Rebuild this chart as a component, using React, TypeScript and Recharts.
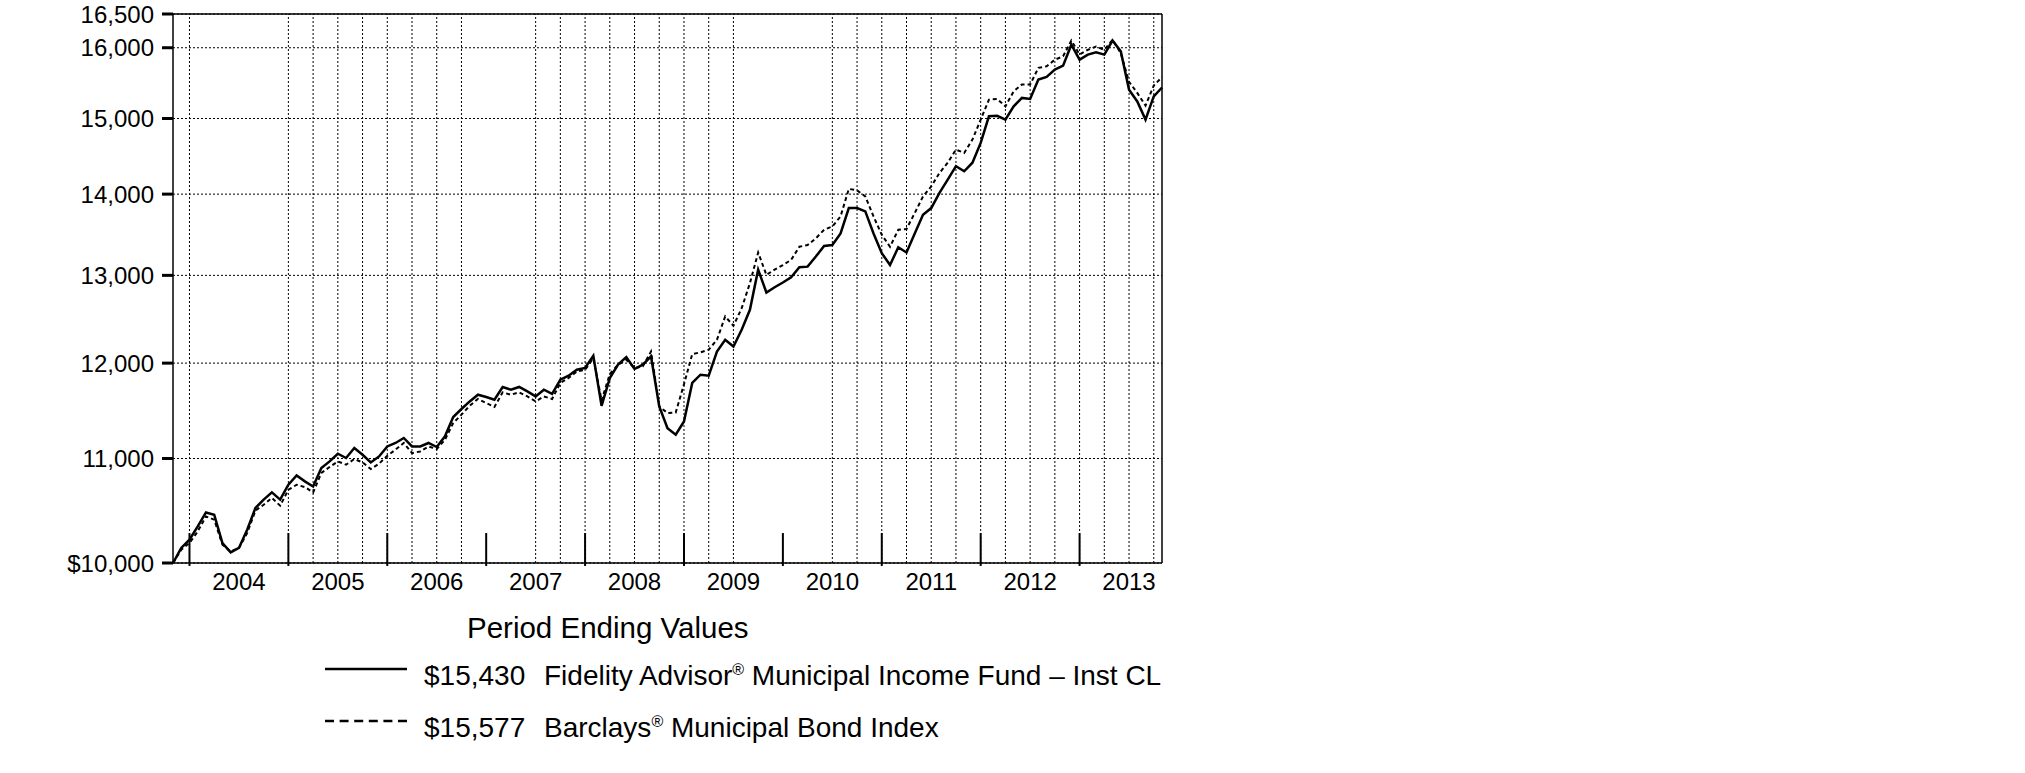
import React from 'react';
import { LineChart, Line, XAxis, YAxis, CartesianGrid, ReferenceLine } from 'recharts';

// monthly period-ending values, Oct 2003 .. Oct 2013 (index 0 = Oct 2003)
const fundValues = [
  10000, 10138, 10215, 10339, 10472, 10450, 10184, 10097, 10138, 10308,
  10514, 10595, 10665, 10595, 10740, 10831, 10773, 10723, 10905, 10971,
  11048, 11005, 11106, 11038, 10961, 11021, 11122, 11157, 11208, 11122,
  11122, 11157, 11116, 11225, 11424, 11508, 11588, 11659, 11635, 11606,
  11742, 11713, 11742, 11695, 11641, 11713, 11669, 11820, 11863, 11928,
  11947, 12080, 11542, 11838, 11983, 12066, 11936, 11983, 12073, 11535,
  11309, 11242, 11378, 11785, 11874, 11863, 12128, 12258, 12183, 12371,
  12598, 13068, 12798, 12860, 12916, 12978, 13098, 13104, 13225, 13353,
  13365, 13507, 13823, 13823, 13781, 13507, 13266, 13123, 13337, 13274,
  13507, 13740, 13823, 14016, 14186, 14361, 14295, 14407, 14670, 15030,
  15037, 14985, 15167, 15284, 15270, 15543, 15580, 15685, 15740, 16044,
  15827, 15900, 15933, 15900, 16106, 15947, 15400, 15235, 14985, 15306,
  15430,
];

const indexValues = [
  10000, 10122, 10184, 10292, 10434, 10403, 10168, 10106, 10138, 10277,
  10489, 10546, 10611, 10537, 10691, 10740, 10717, 10665, 10856, 10915,
  10971, 10938, 10995, 10961, 10895, 10948, 11027, 11089, 11157, 11055,
  11071, 11122, 11096, 11190, 11362, 11449, 11542, 11614, 11571, 11530,
  11684, 11659, 11684, 11641, 11588, 11641, 11614, 11785, 11838, 11910,
  11928, 12055, 11600, 11880, 11983, 12037, 11947, 11964, 12128, 11535,
  11466, 11472, 11770, 12100, 12118, 12148, 12258, 12522, 12416, 12616,
  12908, 13274, 13006, 13068, 13123, 13185, 13344, 13365, 13447, 13552,
  13593, 13718, 14067, 14048, 13970, 13718, 13490, 13344, 13552, 13562,
  13760, 13970, 14099, 14273, 14407, 14580, 14536, 14714, 14985, 15259,
  15270, 15167, 15376, 15472, 15472, 15709, 15731, 15827, 15875, 16106,
  15900, 15970, 16018, 15970, 16115, 15922, 15511, 15354, 15177, 15457,
  15577,
];

const yearLabels = ['2004', '2005', '2006', '2007', '2008', '2009', '2010', '2011', '2012', '2013'];
const yearLabelIdx = [8, 20, 32, 44, 56, 68, 80, 92, 104, 116]; // mid-year (June)
const yearEndIdx = [2, 14, 26, 38, 50, 62, 74, 86, 98, 110]; // December
// quarterly dotted gridlines as they appear in the original (some quarters are missing)
const gridIdx = [2, 14, 17, 20, 23, 26, 29, 32, 35, 44, 47, 50, 53, 56, 59, 62, 65, 68, 80, 83, 86, 89, 92, 95, 98, 101, 104, 107, 110, 113, 116, 119];
const yTicks = [10000, 11000, 12000, 13000, 14000, 15000, 16000, 16500];

const legendValues = ['$15,430', '$15,577'];

const FONT = '"Liberation Sans", Arial, Helvetica, sans-serif';

const rows = fundValues.map((v, i) => ({ idx: i, fund: v, index: indexValues[i] }));

const formatY = (v: number) => (v === 10000 ? '$10,000' : v.toLocaleString('en-US'));
const formatX = (v: number) => yearLabels[yearLabelIdx.indexOf(v)] ?? '';

export default function App() {
  return (
    <div
      style={{
        position: 'absolute',
        left: 0,
        top: 0,
        width: 2025,
        height: 773,
        background: '#fff',
        fontFamily: FONT,
      }}
    >
      <LineChart width={2025} height={773} data={rows} margin={{ top: 14, right: 863, bottom: 170, left: 0 }}>
        <CartesianGrid vertical={false} stroke="#000" strokeDasharray="2 2" strokeWidth={1} />
        {gridIdx.map((i) => (
          <ReferenceLine key={`g${i}`} x={i} stroke="#000" strokeDasharray="2 2" strokeWidth={1} />
        ))}
        <XAxis
          dataKey="idx"
          type="number"
          domain={[0, 120]}
          ticks={yearLabelIdx}
          interval={0}
          tickFormatter={formatX}
          tickLine={false}
          tickSize={0}
          tickMargin={10}
          height={40}
          axisLine={{ stroke: '#000', strokeWidth: 1.5 }}
          tick={{ fontSize: 24, fill: '#000', fontFamily: FONT }}
        />
        <YAxis
          type="number"
          scale="log"
          domain={[10000, 16500]}
          ticks={yTicks}
          interval={0}
          width={173}
          tickFormatter={formatY}
          tickSize={11}
          tickMargin={8}
          tickLine={{ stroke: '#000', strokeWidth: 3 }}
          axisLine={{ stroke: '#000', strokeWidth: 1.5 }}
          tick={{ fontSize: 24, fill: '#000', fontFamily: FONT }}
          allowDataOverflow
        />
        <ReferenceLine y={16500} stroke="#000" strokeWidth={1.5} />
        <ReferenceLine x={120} stroke="#000" strokeWidth={1.5} />
        {yearEndIdx.map((i) => (
          <ReferenceLine
            key={`t${i}`}
            segment={[{ x: i, y: 9973 }, { x: i, y: 10277 }]}
            stroke="#000"
            strokeWidth={2}
            ifOverflow="visible"
          />
        ))}
        <Line
          dataKey="index"
          stroke="#000"
          strokeWidth={2}
          strokeDasharray="4 3"
          dot={false}
          activeDot={false}
          isAnimationActive={false}
        />
        <Line
          dataKey="fund"
          stroke="#000"
          strokeWidth={2.5}
          dot={false}
          activeDot={false}
          isAnimationActive={false}
        />
      </LineChart>

      <svg
        width={2025}
        height={773}
        style={{ position: 'absolute', left: 0, top: 0, pointerEvents: 'none' }}
        fontFamily={FONT}
      >
        <text x={467} y={638} fontSize={29.5} fill="#000">
          Period Ending Values
        </text>
        <line x1={325} x2={407} y1={669} y2={669} stroke="#000" strokeWidth={2.5} />
        <text x={424} y={685} fontSize={28} fill="#000">
          {legendValues[0]}
        </text>
        <text x={544} y={685} fontSize={28} fill="#000">
          Fidelity Advisor
          <tspan fontSize={16} dy={-10}>®</tspan>
          <tspan dy={10}> Municipal Income Fund – Inst CL</tspan>
        </text>
        <line x1={325} x2={407} y1={721} y2={721} stroke="#000" strokeWidth={2.5} strokeDasharray="9 5.6" />
        <text x={424} y={737} fontSize={28} fill="#000">
          {legendValues[1]}
        </text>
        <text x={544} y={737} fontSize={28} fill="#000">
          Barclays
          <tspan fontSize={16} dy={-10}>®</tspan>
          <tspan dy={10}> Municipal Bond Index</tspan>
        </text>
      </svg>
    </div>
  );
}
